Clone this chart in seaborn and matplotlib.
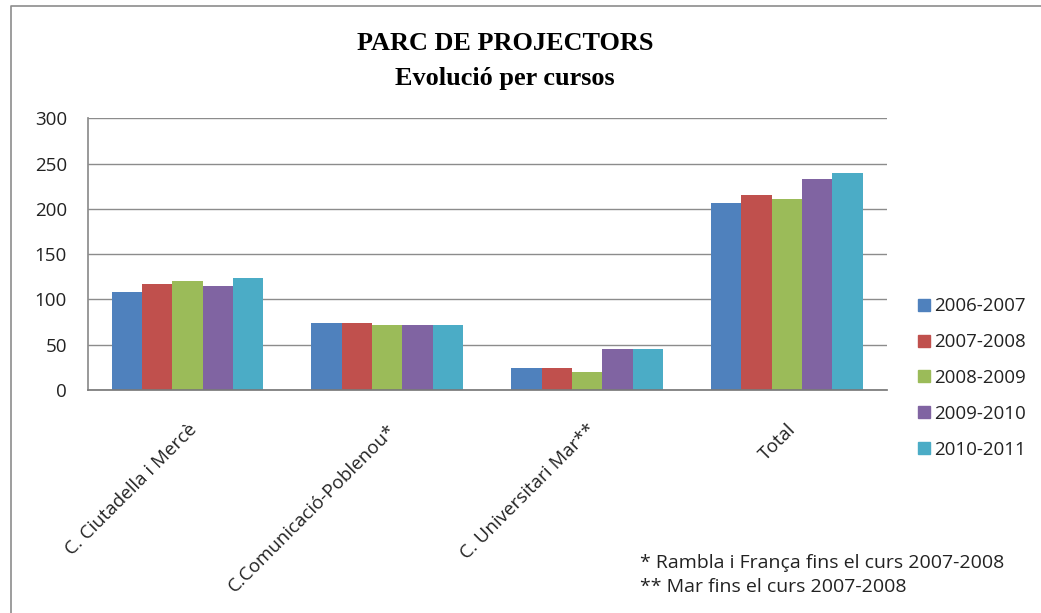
import numpy as np
import pandas as pd
import matplotlib
matplotlib.use("Agg")
import matplotlib.pyplot as plt
import seaborn as sns
from matplotlib.lines import Line2D

# Data
centres = ["C. Ciutadella i Mercè", "C.Comunicació-Poblenou*",
           "C. Universitari Mar**", "Total"]
cursos = ["2006-2007", "2007-2008", "2008-2009", "2009-2010", "2010-2011"]
v_2006_2007 = [108, 74, 24, 206]
v_2007_2008 = [117, 74, 24, 215]
v_2008_2009 = [120, 72, 20, 211]
v_2009_2010 = [115, 72, 45, 233]
v_2010_2011 = [124, 72, 45, 240]
colors = ["#4F81BD", "#C0504D", "#9BBB59", "#8064A2", "#4BACC6"]

values = [v_2006_2007, v_2007_2008, v_2008_2009, v_2009_2010, v_2010_2011]
rows = []
for curs, vals in zip(cursos, values):
    for centre, v in zip(centres, vals):
        rows.append({"centre": centre, "curs": curs, "projectors": v})
df = pd.DataFrame(rows)

sns.set_theme(style="white")
font = "Open Sans"
plt.rcParams["font.family"] = [font, "DejaVu Sans"]
txt_color = "#222222"

fig = plt.figure(figsize=(10.41, 6.13), dpi=100)
ax = fig.add_axes([0.0842, 0.3638, 0.7676, 0.4432])

sns.barplot(data=df, x="centre", y="projectors", hue="curs",
            order=centres, hue_order=cursos, palette=colors,
            width=0.76, gap=0, saturation=1, linewidth=0, edgecolor="none",
            ax=ax, legend=False)

ax.set_ylim(0, 300)
ax.set_yticks(range(0, 301, 50))
ax.set_xlim(-0.5, 3.5)
ax.yaxis.grid(True, color="#8c8c8c", linewidth=1)
ax.set_axisbelow(True)
ax.set_xlabel("")
ax.set_ylabel("")
for s in ["top", "right"]:
    ax.spines[s].set_visible(False)
ax.spines["left"].set_color("#8c8c8c")
ax.spines["bottom"].set_color("#7a7a7a")
ax.tick_params(axis="y", length=0, pad=15, labelsize=13.5, colors=txt_color)
ax.tick_params(axis="x", length=0, pad=22, labelsize=13.5, colors=txt_color)
plt.setp(ax.get_xticklabels(), rotation=45, ha="right", rotation_mode="anchor")

# legend
handles = [Line2D([], [], marker="s", linestyle="", markersize=8,
                  markerfacecolor=c, markeredgecolor=c) for c in colors]
fig.legend(handles, cursos, loc="center left",
           bbox_to_anchor=(0.862, 1 - 378 / 613), frameon=False,
           fontsize=13.5, labelspacing=0.95, handletextpad=0.05,
           handlelength=1.0, labelcolor=txt_color)

# titles
fig.text(0.485, 1 - 43 / 613, "PARC DE PROJECTORS", ha="center", va="center",
         fontsize=18.9, fontweight="bold", family="Liberation Serif", color="black")
fig.text(0.485, 1 - 78 / 613, "Evolució per cursos", ha="center", va="center",
         fontsize=18.9, fontweight="bold", family="Liberation Serif", color="black")

# footnotes
fig.text(640 / 1041, 1 - 563 / 613, "* Rambla i França fins el curs 2007-2008",
         ha="left", va="center", fontsize=14, color=txt_color)
fig.text(640 / 1041, 1 - 587 / 613, "** Mar fins el curs 2007-2008",
         ha="left", va="center", fontsize=14, color=txt_color)

# outer chart border (top and left visible)
fig.add_artist(Line2D([11 / 1041, 11 / 1041, 1.0], [0.0, 1 - 6 / 613, 1 - 6 / 613],
                      transform=fig.transFigure, color="#8c8c8c", linewidth=1.2))

fig.savefig("out.png", dpi=100)
